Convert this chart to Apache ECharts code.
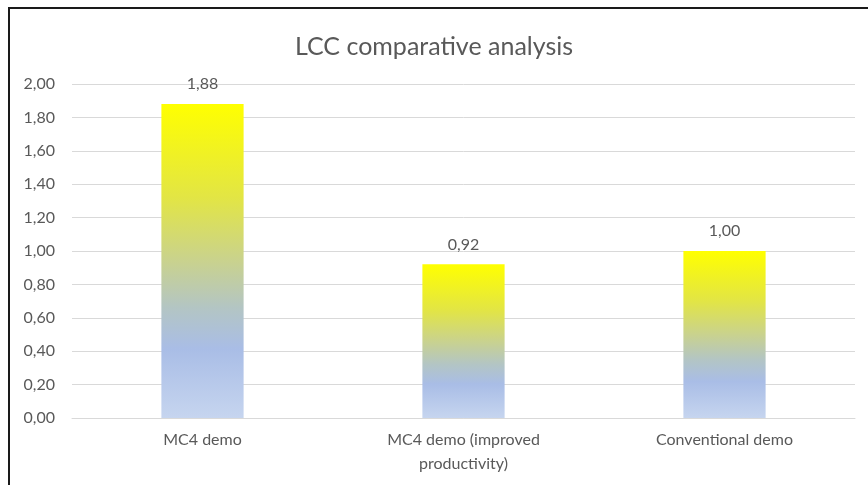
<!DOCTYPE html>
<html>
<head>
<meta charset="utf-8">
<script src="https://cdn.jsdelivr.net/npm/echarts@6/dist/echarts.min.js"></script>
<style>
  html, body { margin: 0; padding: 0; background: #fff; }
  #chart { width: 868px; height: 485px; }
</style>
</head>
<body>
<div id="chart"></div>
<script>
// Life-cycle cost, relative to the conventional demo
const categories = ['MC4 demo', 'MC4 demo (improved\nproductivity)', 'Conventional demo'];
const lccValues = [1.88, 0.92, 1.00];
const yTicks = { min: 0, max: 2, interval: 0.2 };

const fmt = v => v.toFixed(2).replace('.', ',');
const FONT = 'Lato, "Open Sans", sans-serif';

const barGradient = new echarts.graphic.LinearGradient(0, 0, 0, 1, [
  { offset: 0.00, color: '#ffff00' },
  { offset: 0.30, color: '#e2e545' },
  { offset: 0.50, color: '#c9d28e' },
  { offset: 0.65, color: '#b3c5c4' },
  { offset: 0.78, color: '#a9bde6' },
  { offset: 1.00, color: '#c6d5ef' }
]);

const chart = echarts.init(document.getElementById('chart'), null, { renderer: 'canvas' });
chart.setOption({
  backgroundColor: '#ffffff',
  animation: false,
  title: {
    text: 'LCC comparative analysis',
    left: 'center',
    top: 29,
    textStyle: { fontFamily: FONT, fontSize: 25, fontWeight: 'normal', color: '#595959' }
  },
  grid: { left: 72, right: 13, top: 84, bottom: 67 },
  xAxis: {
    type: 'category',
    data: categories,
    axisLine: { show: true, lineStyle: { color: '#d9d9d9', width: 1 } },
    axisTick: { show: false },
    axisLabel: { fontFamily: FONT, fontSize: 16, color: '#595959', margin: 10, lineHeight: 24 }
  },
  yAxis: {
    type: 'value',
    min: yTicks.min,
    max: yTicks.max,
    interval: yTicks.interval,
    axisLine: { show: false },
    axisTick: { show: false },
    splitLine: { lineStyle: { color: '#d9d9d9', width: 1 } },
    axisLabel: { fontFamily: FONT, fontSize: 16, color: '#595959', margin: 17, formatter: fmt }
  },
  series: [{
    type: 'bar',
    data: lccValues,
    barWidth: '31.5%',
    itemStyle: { color: barGradient },
    label: {
      show: true,
      position: 'top',
      distance: 12,
      fontFamily: FONT,
      fontSize: 16,
      color: '#595959',
      formatter: p => fmt(p.value)
    }
  }],
  graphic: [
    { type: 'line', shape: { x1: 9, y1: 8, x2: 9, y2: 485 }, style: { stroke: '#1a1a1a', lineWidth: 2 } },
    { type: 'line', shape: { x1: 8, y1: 8, x2: 868, y2: 8 }, style: { stroke: '#1a1a1a', lineWidth: 2 } }
  ]
});
</script>
</body>
</html>
